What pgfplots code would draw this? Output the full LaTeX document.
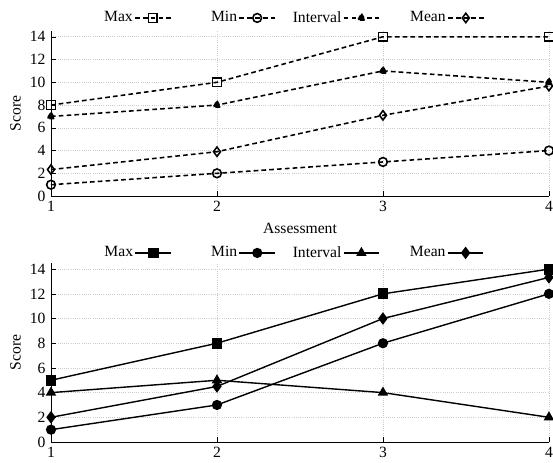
\documentclass[border=0pt]{standalone}
\usepackage{fontspec}
\setmainfont{Liberation Serif}
\usepackage{pgfplots}
\pgfplotsset{compat=1.18}
\begin{document}
\begin{tikzpicture}
\useasboundingbox (-32.64pt,-12.8pt) rectangle (321.3pt,282.9pt);
\pgfplotsset{
  common/.style={
    scale only axis,
    width=318.7pt,
    xmin=1, xmax=4, ymin=0, ymax=14.5,
    xtick={1,2,3,4}, ytick={0,2,...,14},
    axis x line*=bottom, axis y line*=left,
    grid=major, grid style={densely dotted, gray!40},
    tick style={black}, tick align=inside,
    major tick length=3pt,
    /pgf/number format/assume math mode=true,
    ylabel={Score},
    ylabel style={yshift=-1pt},
    clip mode=individual,
    legend plot pos=right,
    legend columns=4,
    legend style={draw=none, fill=none, inner sep=0pt,
      nodes={text width=32pt, align=right, inner sep=1pt},
      /tikz/every even column/.append style={column sep=9pt}},
    legend image code/.code={
      \draw[mark repeat=2,mark phase=2,##1] plot coordinates {(0cm,0cm)(0.4cm,0cm)(0.8cm,0cm)};
    },
  },
  topplot/.style={black, densely dashed, line width=1pt, mark options={solid, black}},
  botplot/.style={black, solid, line width=0.9pt, mark options={solid, fill=black, draw=black}},
}
% top axis
\begin{axis}[common,
  at={(0pt,157.4pt)}, anchor=south west,
  height=105.6pt,
  xlabel={Assessment},
  legend style={at={(0.4655,1)}, anchor=south, yshift=3pt},
]
\addplot[topplot, mark=square, mark size=2.8pt] coordinates {(1,8) (2,10) (3,14) (4,14)};
\addlegendentry{Max}
\addplot[topplot, mark=o, mark size=2.8pt] coordinates {(1,1) (2,2) (3,3) (4,4)};
\addlegendentry{Min}
\addplot[topplot, mark=triangle*, mark size=2.7pt, mark options={fill=black}] coordinates {(1,7) (2,8) (3,11) (4,10)};
\addlegendentry{Interval}
\addplot[topplot, mark=diamond, mark size=3pt] coordinates {(1,2.33) (2,3.9) (3,7.1) (4,9.67)};
\addlegendentry{Mean}
\end{axis}
% bottom axis
\begin{axis}[common,
  at={(0pt,0pt)}, anchor=south west,
  height=114.6pt,
  legend style={at={(0.4655,1)}, anchor=south, yshift=1pt},
]
\addplot[botplot, mark=square*, mark size=3pt] coordinates {(1,5) (2,8) (3,12) (4,14)};
\addlegendentry{Max}
\addplot[botplot, mark=*, mark size=2.8pt] coordinates {(1,1) (2,3) (3,8) (4,12)};
\addlegendentry{Min}
\addplot[botplot, mark=triangle*, mark size=3pt] coordinates {(1,4) (2,5) (3,4) (4,2)};
\addlegendentry{Interval}
\addplot[botplot, mark=diamond*, mark size=3.3pt] coordinates {(1,2) (2,4.5) (3,10) (4,13.33)};
\addlegendentry{Mean}
\end{axis}
\end{tikzpicture}
\end{document}
